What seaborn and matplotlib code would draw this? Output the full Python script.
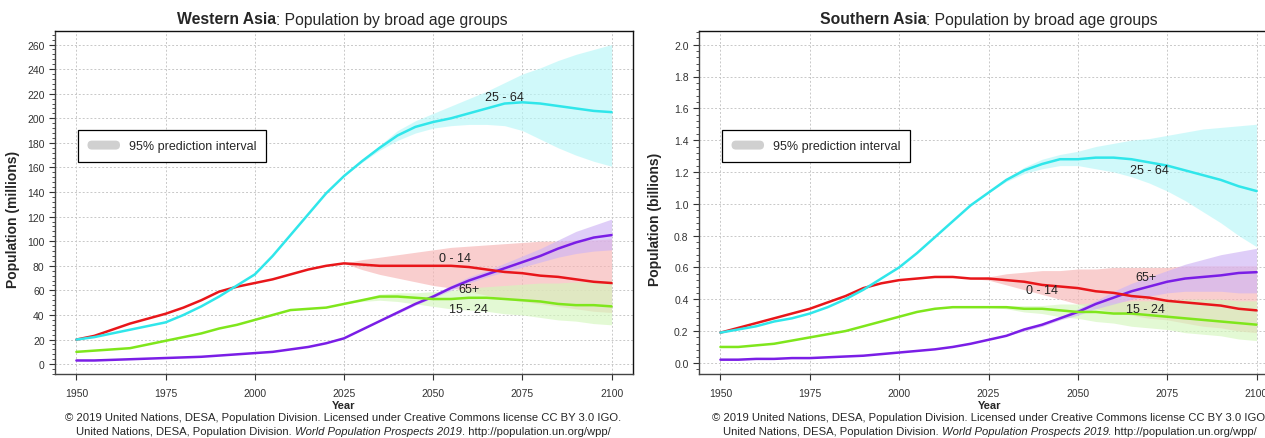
import numpy as np
import pandas as pd
import matplotlib
matplotlib.use("Agg")
import matplotlib.pyplot as plt
from matplotlib.patches import FancyBboxPatch
from matplotlib.legend_handler import HandlerPatch
from matplotlib.ticker import MultipleLocator, AutoMinorLocator
import seaborn as sns

# ---- data ----
hist_years = list(range(1950, 2020, 5))
proj_years = list(range(2020, 2105, 5))
age_groups = ["0 - 14", "15 - 24", "25 - 64", "65+"]

# Western Asia, millions
wa_hist_0_14 = [20, 23, 28, 33, 37, 41, 46, 52, 59, 63, 66, 69, 73, 77]
wa_hist_15_24 = [10, 11, 12, 13, 16, 19, 22, 25, 29, 32, 36, 40, 44, 45]
wa_hist_25_64 = [20, 22, 25, 28, 31, 34, 40, 47, 55, 64, 73, 88, 105, 122]
wa_hist_65 = [3, 3, 3.5, 4, 4.5, 5, 5.5, 6, 7, 8, 9, 10, 12, 14]

wa_proj_0_14 = [80, 82, 81, 80, 80, 80, 80, 80, 79, 77, 75, 74, 72, 71, 69, 67, 66]
wa_low_0_14 = [80, 82, 77, 73, 70, 67, 64, 62, 59, 56, 53, 51, 49, 47, 45, 43, 42]
wa_up_0_14 = [80, 82, 85, 87, 89, 91, 93, 95, 96, 97, 98, 99, 100, 100, 101, 101, 102]

wa_proj_15_24 = [46, 49, 52, 55, 55, 54, 53, 53, 54, 54, 53, 52, 51, 49, 48, 48, 47]
wa_low_15_24 = [46, 49, 51, 52, 51, 49, 47, 45, 44, 43, 41, 40, 38, 36, 35, 33, 32]
wa_up_15_24 = [46, 49, 53, 57, 58, 58, 59, 60, 62, 63, 64, 65, 66, 66, 67, 67, 68]

wa_proj_25_64 = [139, 153, 165, 176, 186, 193, 197, 200, 204, 208, 212, 213, 212, 210, 208, 206, 205]
wa_low_25_64 = [139, 153, 164, 174, 182, 188, 192, 194, 195, 195, 194, 190, 183, 176, 170, 165, 161]
wa_up_25_64 = [139, 153, 166, 178, 190, 198, 204, 210, 216, 222, 229, 236, 241, 247, 252, 256, 260]

wa_proj_65 = [17, 21, 28, 35, 42, 49, 55, 62, 68, 73, 78, 83, 88, 94, 99, 103, 105]
wa_low_65 = [17, 21, 28, 35, 41, 48, 54, 60, 66, 71, 75, 79, 83, 87, 90, 92, 93]
wa_up_65 = [17, 21, 28, 36, 43, 50, 57, 64, 71, 76, 82, 88, 94, 101, 108, 113, 118]

# Southern Asia, billions
sa_hist_0_14 = [0.19, 0.22, 0.25, 0.28, 0.31, 0.34, 0.38, 0.42, 0.47, 0.50, 0.52, 0.53, 0.54, 0.54]
sa_hist_15_24 = [0.10, 0.10, 0.11, 0.12, 0.14, 0.16, 0.18, 0.20, 0.23, 0.26, 0.29, 0.32, 0.34, 0.35]
sa_hist_25_64 = [0.19, 0.21, 0.23, 0.26, 0.28, 0.31, 0.35, 0.40, 0.46, 0.53, 0.60, 0.69, 0.79, 0.89]
sa_hist_65 = [0.02, 0.02, 0.025, 0.025, 0.03, 0.03, 0.035, 0.04, 0.045, 0.055, 0.065, 0.075, 0.085, 0.10]

sa_proj_0_14 = [0.53, 0.53, 0.52, 0.51, 0.49, 0.48, 0.47, 0.45, 0.44, 0.42, 0.41, 0.39, 0.38, 0.37, 0.36, 0.34, 0.33]
sa_low_0_14 = [0.53, 0.52, 0.49, 0.46, 0.43, 0.40, 0.37, 0.34, 0.32, 0.30, 0.28, 0.27, 0.25, 0.23, 0.22, 0.20, 0.19]
sa_up_0_14 = [0.53, 0.54, 0.56, 0.57, 0.58, 0.58, 0.59, 0.59, 0.60, 0.60, 0.60, 0.60, 0.61, 0.61, 0.61, 0.61, 0.61]

sa_proj_15_24 = [0.35, 0.35, 0.35, 0.34, 0.34, 0.33, 0.32, 0.32, 0.31, 0.31, 0.30, 0.29, 0.28, 0.27, 0.26, 0.25, 0.24]
sa_low_15_24 = [0.35, 0.35, 0.34, 0.32, 0.31, 0.29, 0.28, 0.26, 0.25, 0.23, 0.22, 0.21, 0.19, 0.18, 0.17, 0.15, 0.14]
sa_up_15_24 = [0.35, 0.35, 0.36, 0.36, 0.36, 0.37, 0.37, 0.38, 0.38, 0.39, 0.39, 0.39, 0.40, 0.40, 0.40, 0.39, 0.39]

sa_proj_25_64 = [0.99, 1.07, 1.15, 1.21, 1.25, 1.28, 1.28, 1.29, 1.29, 1.28, 1.26, 1.24, 1.21, 1.18, 1.15, 1.11, 1.08]
sa_low_25_64 = [0.99, 1.07, 1.14, 1.19, 1.22, 1.24, 1.24, 1.22, 1.20, 1.17, 1.13, 1.08, 1.02, 0.95, 0.88, 0.80, 0.73]
sa_up_25_64 = [0.99, 1.07, 1.16, 1.23, 1.28, 1.31, 1.33, 1.36, 1.38, 1.40, 1.41, 1.43, 1.45, 1.47, 1.48, 1.49, 1.50]

sa_proj_65 = [0.12, 0.145, 0.17, 0.21, 0.24, 0.28, 0.32, 0.37, 0.41, 0.45, 0.48, 0.51, 0.53, 0.54, 0.55, 0.565, 0.57]
sa_low_65 = [0.12, 0.145, 0.17, 0.20, 0.23, 0.27, 0.30, 0.34, 0.37, 0.40, 0.42, 0.44, 0.45, 0.45, 0.45, 0.44, 0.44]
sa_up_65 = [0.12, 0.145, 0.17, 0.21, 0.25, 0.29, 0.34, 0.39, 0.45, 0.50, 0.54, 0.58, 0.62, 0.65, 0.68, 0.70, 0.72]

colors = {"0 - 14": "#e8161a", "15 - 24": "#7fe61c", "25 - 64": "#30e6ea", "65+": "#7a1ee6"}
bands = {"0 - 14": "#f7b4b4", "15 - 24": "#d4f7bd", "25 - 64": "#b8f7f8", "65+": "#cfb4f5"}

regions = [
    {
        "name": "Western Asia", "ylabel": "Population (millions)",
        "hist": [wa_hist_0_14, wa_hist_15_24, wa_hist_25_64, wa_hist_65],
        "proj": [wa_proj_0_14, wa_proj_15_24, wa_proj_25_64, wa_proj_65],
        "low": [wa_low_0_14, wa_low_15_24, wa_low_25_64, wa_low_65],
        "up": [wa_up_0_14, wa_up_15_24, wa_up_25_64, wa_up_65],
        "labels": {"0 - 14": (2056, 86), "15 - 24": (2060, 45), "25 - 64": (2070, 217), "65+": (2060, 61)},
        "ylim": (-8, 271), "ymajor": 20, "yfmt": "{:.0f}",
    },
    {
        "name": "Southern Asia", "ylabel": "Population (billions)",
        "hist": [sa_hist_0_14, sa_hist_15_24, sa_hist_25_64, sa_hist_65],
        "proj": [sa_proj_0_14, sa_proj_15_24, sa_proj_25_64, sa_proj_65],
        "low": [sa_low_0_14, sa_low_15_24, sa_low_25_64, sa_low_65],
        "up": [sa_up_0_14, sa_up_15_24, sa_up_25_64, sa_up_65],
        "labels": {"0 - 14": (2040, 0.46), "15 - 24": (2069, 0.34), "25 - 64": (2070, 1.21), "65+": (2069, 0.54)},
        "ylim": (-0.07, 2.086), "ymajor": 0.2, "yfmt": "{:.1f}",
    },
]

sns.set_style("white")
plt.rcParams["font.family"] = ["Liberation Sans", "DejaVu Sans"]

fig = plt.figure(figsize=(12.65, 4.39), dpi=100)
ax_pos = [[55 / 1265, 1 - 375 / 439, 578 / 1265, 343 / 439],
          [699 / 1265, 1 - 375 / 439, 579 / 1265, 343 / 439]]
text_centers = [343.5 / 1265, 990 / 1265]
ylabel_x = [20 / 1265, 662 / 1265]


class HandlerPill(HandlerPatch):
    def create_artists(self, legend, orig_handle, xdescent, ydescent, width, height, fontsize, trans):
        p = FancyBboxPatch((-xdescent, -ydescent + height * 0.1),
                           width, height * 0.8,
                           boxstyle="round,pad=0,rounding_size=%f" % (height * 0.4),
                           facecolor="#d0d0d0", edgecolor="none", transform=trans)
        return [p]


def mixed_text(fig, xc, y, parts, size):
    # parts: list of (text, weight, style); placed one after another, centred on xc
    r = fig.canvas.get_renderer()
    texts = []
    for s, w, st in parts:
        t = fig.text(0, y, s, fontsize=size, fontweight=w, fontstyle=st, va="center", ha="left")
        texts.append(t)
    widths = [t.get_window_extent(r).width / fig.bbox.width for t in texts]
    x = xc - sum(widths) / 2
    for t, w in zip(texts, widths):
        t.set_x(x)
        x += w


for i, reg in enumerate(regions):
    ax = fig.add_axes(ax_pos[i])
    rows = []
    for g, h, p in zip(age_groups, reg["hist"], reg["proj"]):
        for yr, v in zip(hist_years + proj_years, h + p):
            rows.append({"year": yr, "value": v, "group": g})
    df = pd.DataFrame(rows)

    # prediction intervals
    for g, lo, up in zip(age_groups, reg["low"], reg["up"]):
        ax.fill_between(proj_years, lo, up, color=bands[g], alpha=0.65, lw=0, zorder=1)

    sns.lineplot(data=df, x="year", y="value", hue="group", palette=colors,
                 hue_order=["65+", "15 - 24", "0 - 14", "25 - 64"],
                 linewidth=1.8, ax=ax, legend=False, zorder=3)

    for g, (lx, ly) in reg["labels"].items():
        ax.text(lx, ly, g, fontsize=9, ha="center", va="center", color="#222222", zorder=4)

    ax.set_xlim(1944, 2106)
    ax.set_ylim(*reg["ylim"])
    ax.set_xticks(range(1950, 2101, 25))
    ax.yaxis.set_major_locator(MultipleLocator(reg["ymajor"]))
    yt = [t for t in ax.get_yticks() if t >= -1e-9 and t <= reg["ylim"][1]]
    ax.set_yticks(yt)
    ax.set_yticklabels([reg["yfmt"].format(t) for t in yt])
    ax.yaxis.set_minor_locator(AutoMinorLocator(5))
    ax.set_ylim(*reg["ylim"])
    ax.grid(True, which="major", color="#c8c8c8", linestyle=(0, (2, 2)), linewidth=0.7)
    ax.tick_params(axis="both", which="major", labelsize=7.5, colors="#333333", length=4, width=0.8,
                   direction="out", left=True, bottom=True)
    ax.tick_params(axis="y", which="minor", length=2, width=0.6, color="#333333", left=True)
    ax.tick_params(axis="x", pad=6)
    for s in ["left", "bottom"]:
        ax.spines[s].set_color("#444444")
        ax.spines[s].set_linewidth(1.0)
    for s in ["top", "right"]:
        ax.spines[s].set_color("#111111")
        ax.spines[s].set_linewidth(1.0)

    ax.set_xlabel("Year", fontsize=8, fontweight="bold")
    ax.xaxis.set_label_coords(text_centers[i], 1 - 401 / 439, transform=fig.transFigure)
    ax.set_ylabel(reg["ylabel"], fontsize=10, fontweight="bold")
    ax.yaxis.set_label_coords(ylabel_x[i], 0.5, transform=fig.transFigure)

    handle = plt.Rectangle((0, 0), 1, 1)
    ax.legend([handle], ["95% prediction interval"], handler_map={plt.Rectangle: HandlerPill()},
              loc="upper left", bbox_to_anchor=(0.04, 0.711), fontsize=9, frameon=True,
              fancybox=False, edgecolor="black", framealpha=1, handlelength=2.6, handleheight=1.0,
              borderpad=0.75, handletextpad=0.7, borderaxespad=0)
    ax.get_legend().get_frame().set_linewidth(0.9)

    mixed_text(fig, text_centers[i] - 0.001, 1 - 20 / 439,
               [(reg["name"], "bold", "normal"), (": Population by broad age groups", "normal", "normal")], 11.3)
    mixed_text(fig, text_centers[i], 1 - 418 / 439,
               [("\u00a9 2019 United Nations, DESA, Population Division. Licensed under Creative Commons license CC BY 3.0 IGO.",
                 "normal", "normal")], 8.1)
    mixed_text(fig, text_centers[i], 1 - 432 / 439,
               [("United Nations, DESA, Population Division. ", "normal", "normal"),
                ("World Population Prospects 2019", "normal", "italic"),
                (". http://population.un.org/wpp/", "normal", "normal")], 8.1)

fig.savefig("out.png", dpi=100)
